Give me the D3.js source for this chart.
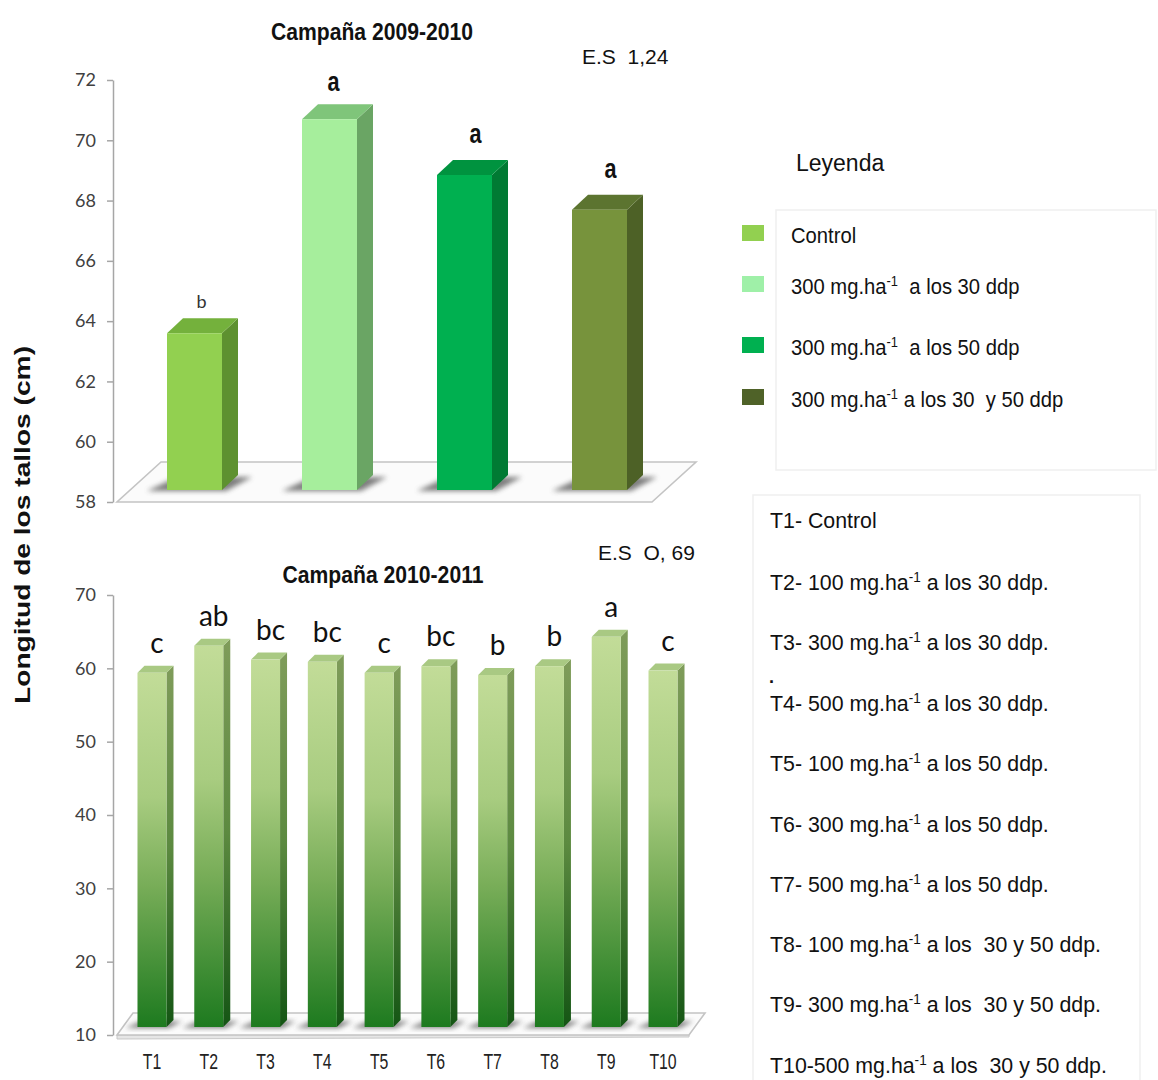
<!DOCTYPE html>
<html>
<head>
<meta charset="utf-8">
<script src="https://cdn.jsdelivr.net/npm/d3@7"></script>
<style>
  html, body { margin: 0; padding: 0; background: #fff; }
  svg text { white-space: pre; }
</style>
</head>
<body>
<div id="chart"></div>
<script>
// ---- Campaña 2009-2010 ----
const cats1 = ["Control", "T30", "T50", "T3050"];
const values1 = [63.2, 70.3, 68.45, 67.3];
const letters1 = ["b", "a", "a", "a"];
const yTicks1 = [58, 60, 62, 64, 66, 68, 70, 72];
const legend1 = [
  ["Control", "", ""],
  ["300 mg.ha", "-1", "  a los 30 ddp"],
  ["300 mg.ha", "-1", "  a los 50 ddp"],
  ["300 mg.ha", "-1", " a los 30  y 50 ddp"]
];

// ---- Campaña 2010-2011 ----
const cats2 = ["T1", "T2", "T3", "T4", "T5", "T6", "T7", "T8", "T9", "T10"];
const values2 = [58.3, 62.0, 60.1, 59.8, 58.3, 59.2, 58.0, 59.2, 63.2, 58.6];
const letters2 = ["c", "ab", "bc", "bc", "c", "bc", "b", "b", "a", "c"];
const yTicks2 = [10, 20, 30, 40, 50, 60, 70];
const legend2 = [
  ["T1- Control", "", ""],
  ["T2- 100 mg.ha", "-1", " a los 30 ddp."],
  ["T3- 300 mg.ha", "-1", " a los 30 ddp."],
  ["T4- 500 mg.ha", "-1", " a los 30 ddp."],
  ["T5- 100 mg.ha", "-1", " a los 50 ddp."],
  ["T6- 300 mg.ha", "-1", " a los 50 ddp."],
  ["T7- 500 mg.ha", "-1", " a los 50 ddp."],
  ["T8- 100 mg.ha", "-1", " a los  30 y 50 ddp."],
  ["T9- 300 mg.ha", "-1", " a los  30 y 50 ddp."],
  ["T10-500 mg.ha", "-1", " a los  30 y 50 ddp."]
];

const W = 1158, H = 1080;
const svg = d3.select("#chart").append("svg")
  .attr("width", W).attr("height", H)
  .style("background", "#fff");

const sans = "'Liberation Sans', Arial, sans-serif";
const calib = "Lato, 'Open Sans', sans-serif";

const defs = svg.append("defs");
defs.append("filter").attr("id", "soft")
  .attr("x", "-50%").attr("y", "-50%").attr("width", "200%").attr("height", "200%")
  .append("feGaussianBlur").attr("stdDeviation", 2.5);

// palette for top chart: front, side, top
const pal1 = [
  { front: "#92d050", side: "#5e9130", top: "#74b13c", key: "#92d050" },
  { front: "#a6ee9c", side: "#6aa564", top: "#7fc57a", key: "#9ff0a8" },
  { front: "#00b050", side: "#007a33", top: "#00933f", key: "#00b050" },
  { front: "#77933c", side: "#4d6126", top: "#5c7430", key: "#4f6228" }
];

// gradients for bottom chart bars
function vGrad(id, stops) {
  const g = defs.append("linearGradient").attr("id", id)
    .attr("x1", 0).attr("y1", 0).attr("x2", 0).attr("y2", 1);
  stops.forEach(s => g.append("stop").attr("offset", s[0]).attr("stop-color", s[1]));
}
vGrad("gFront", [[0, "#c2dc98"], [0.35, "#a8cc80"], [0.6, "#78ad58"], [1, "#1d7a1f"]]);
vGrad("gSide", [[0, "#7f9c5a"], [0.5, "#5c8a40"], [1, "#145514"]]);

// text squeezed horizontally, to get a condensed face
function narrowText(parent, x, y, size, opts) {
  const o = Object.assign({ sx: 0.9, weight: "normal", anchor: "start", fill: "#111", family: sans }, opts || {});
  const g = parent.append("g").attr("transform", `translate(${x},${y}) scale(${o.sx},1)`);
  return g.append("text").attr("text-anchor", o.anchor)
    .style("font-family", o.family).style("font-size", size + "px")
    .style("font-weight", o.weight).attr("fill", o.fill);
}

function bar3d(g, cx, w, yt, yb, dx, dy, fills) {
  const xl = cx - w / 2, xr = cx + w / 2;
  g.append("path")
    .attr("d", `M${xr},${yt}L${xr + dx},${yt - dy}L${xr + dx},${yb - dy}L${xr},${yb}Z`)
    .attr("fill", fills.side);
  g.append("path")
    .attr("d", `M${xl},${yt}L${xl + dx},${yt - dy}L${xr + dx},${yt - dy}L${xr},${yt}Z`)
    .attr("fill", fills.top);
  g.append("rect").attr("x", xl).attr("y", yt).attr("width", w).attr("height", yb - yt)
    .attr("fill", fills.front);
}

// soft shadow cast on the floor around a bar's foot
function shadow(g, cx, w, yb, dx, dy, k) {
  const xl = cx - w / 2, xr = cx + w / 2;
  g.append("path")
    .attr("d", `M${xl - 20 * k},${yb + 1}L${xr + 4 * k},${yb + 1}L${xr + dx + 14 * k},${yb - dy + 2 * k}L${xl + dx - 6 * k},${yb - dy + 2 * k}Z`)
    .attr("fill", "#4a4a4a").attr("opacity", 0.7).attr("filter", "url(#soft)");
}

function floor(g, xl, xr, yFront, dx, dy) {
  g.append("path")
    .attr("d", `M${xl},${yFront}L${xr},${yFront}L${xr + dx},${yFront - dy}L${xl + dx},${yFront - dy}Z`)
    .attr("fill", "#fbfbfb").attr("stroke", "#c4c4c4").attr("stroke-width", 1.6);
}

function yAxis(g, scale, ticks, x) {
  const ax = g.append("g").attr("transform", `translate(${x},0)`)
    .call(d3.axisLeft(scale).tickValues(ticks).tickSize(6).tickSizeOuter(0).tickPadding(11)
      .tickFormat(d3.format("d")));
  ax.select(".domain").attr("stroke", "#a6a6a6").attr("stroke-width", 1.5);
  ax.selectAll(".tick line").attr("stroke", "#a6a6a6").attr("stroke-width", 1.5);
  ax.selectAll(".tick text").attr("fill", "#404040")
    .style("font-family", calib).style("font-size", "18px");
  return ax;
}

// ================= top chart =================
const g1 = svg.append("g");
const y1 = d3.scaleLinear().domain([58, 72]).range([502, 80]);
const x1 = d3.scalePoint().domain(cats1).range([127, 667]).padding(0.5);
const bw1 = 55, dx1 = 16, dy1 = 15, lift1 = 12;

floor(g1, 117, 652, y1(58), 44, 40);
yAxis(g1, y1, yTicks1, 113);

cats1.forEach(c => shadow(g1, x1(c), bw1, y1(58) - lift1, dx1, dy1, 1));
cats1.forEach((c, i) => {
  bar3d(g1, x1(c), bw1, y1(values1[i]) - lift1, y1(58) - lift1, dx1, dy1, pal1[i]);
});

cats1.forEach((c, i) => {
  const yTop = y1(values1[i]) - lift1;
  if (i === 0) {
    narrowText(g1, x1(c) + 7, yTop - 25, 18, { sx: 1, anchor: "middle", family: calib, fill: "#333" }).text(letters1[i]);
  } else {
    narrowText(g1, x1(c) + (i === 1 ? 4 : 11), yTop - (i === 1 ? 28 : 32), 27,
      { sx: 0.8, anchor: "middle", weight: "bold" }).text(letters1[i]);
  }
});

narrowText(svg, 372, 40, 23, { sx: 0.92, anchor: "middle", weight: "bold" }).text("Campaña 2009-2010");
svg.append("text").attr("x", 582).attr("y", 64)
  .style("font-family", sans).style("font-size", "21px")
  .attr("fill", "#111").text("E.S  1,24");

// legend (top)
svg.append("text").attr("x", 796).attr("y", 171)
  .style("font-family", sans).style("font-size", "23px")
  .attr("fill", "#111").text("Leyenda");
svg.append("rect").attr("x", 776).attr("y", 210).attr("width", 380).attr("height", 260)
  .attr("fill", "none").attr("stroke", "#efefef").attr("stroke-width", 1.5);
const legY1 = [233, 284, 345, 397];
legend1.forEach((l, i) => {
  svg.append("rect").attr("x", 742).attr("y", legY1[i] - 8).attr("width", 22).attr("height", 16)
    .attr("fill", pal1[i].key);
  const t = narrowText(svg, 791, legY1[i] + 10, 22, { sx: 0.92 });
  t.append("tspan").text(l[0]);
  if (l[1]) {
    t.append("tspan").attr("dy", -8).style("font-size", "14px").text(l[1]);
    t.append("tspan").attr("dy", 8).text(l[2]);
  }
});

// ================= bottom chart =================
const g2 = svg.append("g");
const y2 = d3.scaleLinear().domain([10, 70]).range([1035, 595]);
const x2 = d3.scalePoint().domain(cats2).range([123.6, 691.4]).padding(0.5);
const bw2 = 29, dx2 = 7, dy2 = 7, lift2 = 8;

// floor slab with a thin front edge
g2.append("path")
  .attr("d", `M117,${y2(10)}L689,${y2(10) - 2}L689,${y2(10) + 2}L117,${y2(10) + 4}Z`)
  .attr("fill", "#e6e6e6").attr("stroke", "#c8c8c8");
floor(g2, 117, 689, y2(10), 16, 22);
yAxis(g2, y2, yTicks2, 113);

cats2.forEach(c => shadow(g2, x2(c), bw2, y2(10) - lift2, dx2, dy2, 0.6));
cats2.forEach((c, i) => {
  bar3d(g2, x2(c), bw2, y2(values2[i]) - lift2, y2(10) - lift2, dx2, dy2,
    { front: "url(#gFront)", side: "url(#gSide)", top: "#a9c983" });
});

g2.selectAll("text.let").data(cats2).join("text")
  .attr("x", d => x2(d) + 5)
  .attr("y", (d, i) => y2(values2[i]) - lift2 - 20)
  .attr("text-anchor", "middle")
  .style("font-family", calib).style("font-size", "28px").attr("fill", "#111")
  .text((d, i) => letters2[i]);

// category axis labels
cats2.forEach(c => {
  narrowText(g2, x2(c), 1069, 22, { sx: 0.72, anchor: "middle", fill: "#222" }).text(c);
});

narrowText(svg, 383, 583, 23, { sx: 0.92, anchor: "middle", weight: "bold" }).text("Campaña 2010-2011");
svg.append("text").attr("x", 598).attr("y", 560)
  .style("font-family", sans).style("font-size", "21px")
  .attr("fill", "#111").text("E.S  O, 69");

// legend (bottom)
svg.append("rect").attr("x", 753).attr("y", 495).attr("width", 387).attr("height", 590)
  .attr("fill", "none").attr("stroke", "#efefef").attr("stroke-width", 1.5);
const legY2 = [520, 582, 642, 703, 763, 824, 884, 944, 1004, 1065];
legend2.forEach((l, i) => {
  const t = narrowText(svg, 770, legY2[i] + 8, 22, { sx: 0.97 });
  t.append("tspan").text(l[0]);
  if (l[1]) {
    t.append("tspan").attr("dy", -8).style("font-size", "14px").text(l[1]);
    t.append("tspan").attr("dy", 8).text(l[2]);
  }
});
svg.append("text").attr("x", 769).attr("y", 683)
  .style("font-family", sans).style("font-size", "18px").style("font-weight", "bold")
  .attr("fill", "#111").text(".");

// shared value axis title
svg.append("text")
  .attr("transform", "translate(30,525) rotate(-90)")
  .attr("text-anchor", "middle")
  .attr("textLength", 358).attr("lengthAdjust", "spacingAndGlyphs")
  .style("font-family", sans).style("font-weight", "bold")
  .style("font-size", "22px").attr("fill", "#111")
  .text("Longitud de los tallos (cm)");
</script>
</body>
</html>
